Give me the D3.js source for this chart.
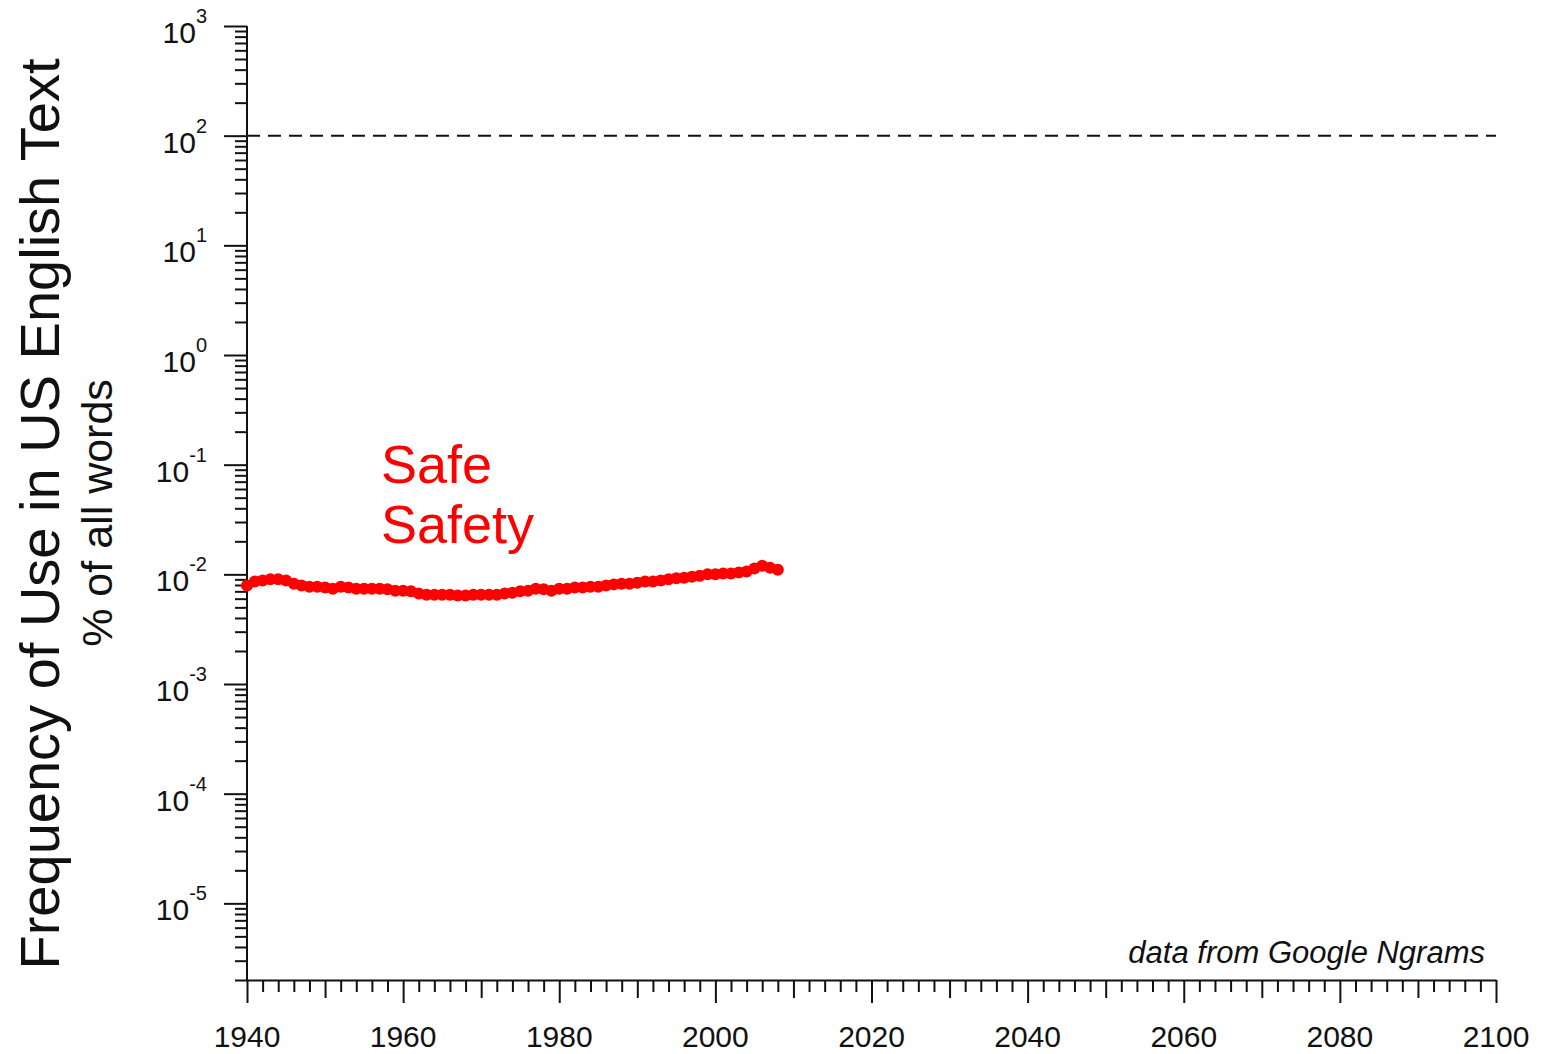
<!DOCTYPE html>
<html>
<head>
<meta charset="utf-8">
<script src="https://cdn.jsdelivr.net/npm/d3@7"></script>
<style>
  body { margin: 0; background: #fff; }
  text { font-family: "Liberation Sans", Arial, sans-serif; fill: #111; }
  .axis path, .axis line { stroke: #111; stroke-width: 2; }
</style>
</head>
<body>
<div class="container"></div>
<script>
// data for "Safe / Safety"
var years = d3.range(1940, 2009);
var safety = [
  0.0079, 0.0086, 0.0088, 0.0090, 0.0090, 0.0088, 0.0082, 0.0079, 0.0077, 0.0077,
  0.0076, 0.0074, 0.0077, 0.0076, 0.0074, 0.0074, 0.0074, 0.0074, 0.0073, 0.0071,
  0.0071, 0.0070, 0.0067, 0.0065, 0.0065, 0.0065, 0.0065, 0.0064, 0.0064, 0.0065,
  0.0065, 0.0065, 0.0065, 0.0067, 0.0068, 0.0070, 0.0071, 0.0074, 0.0073, 0.0071,
  0.0074, 0.0074, 0.0076, 0.0076, 0.0077, 0.0077, 0.0079, 0.0081, 0.0082, 0.0082,
  0.0084, 0.0086, 0.0086, 0.0088, 0.0090, 0.0092, 0.0093, 0.0095, 0.0097, 0.0100,
  0.0100, 0.0102, 0.0102, 0.0104, 0.0106, 0.0113, 0.0120, 0.0115, 0.0110
];
var seriesLabels = ["Safe", "Safety"];
var yExponents = [3, 2, 1, 0, -1, -2, -3, -4, -5];
var xLabelYears = d3.range(1940, 2101, 20);
var refLevel = 100; // 100% line

var W = 1543, H = 1054,
  margin = {top: 26, right: 47, bottom: 74, left: 247},
  width = W - margin.left - margin.right,
  height = H - margin.top - margin.bottom;

var x = d3.scaleLinear().domain([1940, 2100]).range([0, width]);
var y = d3.scaleLog().domain([2e-6, 1000]).range([height, 0]);

var svg = d3.select(".container").append("svg")
  .attr("width", W)
  .attr("height", H);

var g = svg.append("g")
  .attr("transform", "translate(" + margin.left + "," + margin.top + ")");

// y ticks: decades plus 2..9 minors
var yTicks = [];
d3.range(-6, 3).forEach(function(e) {
  d3.range(1, 10).forEach(function(m) {
    var v = m * Math.pow(10, e);
    if (v >= 2e-6 * 0.999 && v <= 1000) yTicks.push(v);
  });
});
yTicks.push(1000);

function isDecade(v) {
  var l = Math.log10(v);
  return Math.abs(l - Math.round(l)) < 1e-9;
}

var yAxis = g.append("g").attr("class", "axis")
  .call(d3.axisLeft(y).tickValues(yTicks).tickSize(12).tickSizeOuter(0).tickFormat(""));
yAxis.selectAll(".tick line")
  .attr("x2", function(d) { return isDecade(d) ? -23 : -12; });
yAxis.select(".domain").attr("d", "M0," + y(1000) + "V" + height);

// y labels as 10^n
var yLab = g.selectAll(".ylab")
  .data(yExponents).enter()
  .append("text")
  .attr("class", "ylab")
  .attr("text-anchor", "end")
  .attr("x", -40)
  .attr("y", function(d) { return y(Math.pow(10, d)) + 17; })
  .style("font-size", "30px");
yLab.append("tspan").text("10");
yLab.append("tspan")
  .attr("dy", -20)
  .style("font-size", "20px")
  .text(function(d) { return d < 0 ? "-" + (-d) : d; });

// x axis
var xTicks = d3.range(1940, 2101, 2);
var xAxis = g.append("g").attr("class", "axis")
  .attr("transform", "translate(0," + height + ")")
  .call(d3.axisBottom(x).tickValues(xTicks).tickSize(12).tickSizeOuter(0).tickFormat(""));
xAxis.selectAll(".tick line")
  .attr("y2", function(d) { return d % 20 === 0 ? 23 : (d % 10 === 0 ? 18 : 12); });

g.selectAll(".xlab")
  .data(xLabelYears).enter()
  .append("text")
  .attr("class", "xlab")
  .attr("text-anchor", "middle")
  .attr("x", function(d) { return x(d); })
  .attr("y", height + 67)
  .style("font-size", "30px")
  .text(function(d) { return d; });

// 100% dashed line
g.append("line")
  .attr("x1", 0).attr("x2", width)
  .attr("y1", y(refLevel)).attr("y2", y(refLevel))
  .attr("stroke", "#111")
  .attr("stroke-width", 2)
  .attr("stroke-dasharray", "13,8");

// series
var pts = years.map(function(yr, i) { return [yr, safety[i]]; });
var line = d3.line()
  .x(function(d) { return x(d[0]); })
  .y(function(d) { return y(d[1]); });

g.append("path")
  .datum(pts)
  .attr("fill", "none")
  .attr("stroke", "#ff0000")
  .attr("stroke-width", 8)
  .attr("stroke-linejoin", "round")
  .attr("d", line);

g.selectAll(".dot")
  .data(pts).enter()
  .append("circle")
  .attr("class", "dot")
  .attr("cx", function(d) { return x(d[0]); })
  .attr("cy", function(d) { return y(d[1]); })
  .attr("r", 6)
  .attr("fill", "#ff0000");

// series labels
g.selectAll(".slab")
  .data(seriesLabels).enter()
  .append("text")
  .attr("class", "slab")
  .attr("x", 381 - margin.left)
  .attr("y", function(d, i) { return 483 - margin.top + i * 60; })
  .style("font-size", "54px")
  .style("fill", "#ff0000")
  .text(function(d) { return d; });

// source note
g.append("text")
  .attr("text-anchor", "end")
  .attr("x", 1485 - margin.left)
  .attr("y", 963 - margin.top)
  .style("font-size", "31px")
  .style("font-style", "italic")
  .text("data from Google Ngrams");

// axis titles
svg.append("text")
  .attr("transform", "translate(59,514) rotate(-90)")
  .attr("text-anchor", "middle")
  .style("font-size", "56px")
  .text("Frequency of Use in US English Text");

svg.append("text")
  .attr("transform", "translate(112,513) rotate(-90)")
  .attr("text-anchor", "middle")
  .style("font-size", "43px")
  .text("% of all words");
</script>
</body>
</html>
